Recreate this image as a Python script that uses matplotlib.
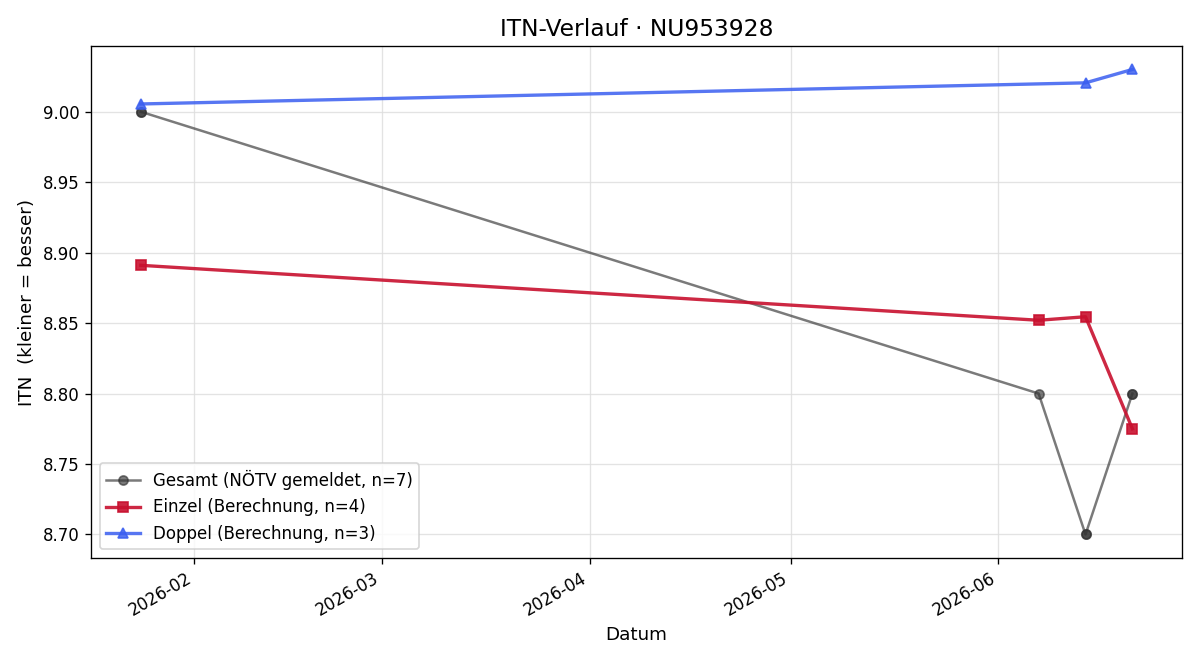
import matplotlib
matplotlib.use("Agg")
import matplotlib.pyplot as plt
import matplotlib.dates as mdates
import pandas as pd

gesamt_dates = ["2026-01-24", "2026-01-24", "2026-06-07",
                "2026-06-14", "2026-06-14", "2026-06-21", "2026-06-21"]
gesamt_vals = [9.00, 9.00, 8.80, 8.70, 8.70, 8.80, 8.80]

einzel_dates = ["2026-01-24", "2026-06-07", "2026-06-14", "2026-06-21"]
einzel_vals = [8.891, 8.852, 8.8545, 8.775]

doppel_dates = ["2026-01-24", "2026-06-14", "2026-06-21"]
doppel_vals = [9.0055, 9.0205, 9.030]

fig, ax = plt.subplots(figsize=(10, 5.5), dpi=120)

ax.plot(pd.to_datetime(gesamt_dates), gesamt_vals, marker="o", color="#333333",
        alpha=0.65, lw=1.5, ms=5.5, label="Gesamt (NÖTV gemeldet, n=7)")
ax.plot(pd.to_datetime(einzel_dates), einzel_vals, marker="s", color="#c8102e",
        alpha=0.9, lw=2, ms=6.5, label="Einzel (Berechnung, n=4)")
ax.plot(pd.to_datetime(doppel_dates), doppel_vals, marker="^", color="#3a5ef0",
        alpha=0.85, lw=2, ms=6.5, label="Doppel (Berechnung, n=3)")

ax.set_title("ITN-Verlauf · NU953928", fontsize=14)
ax.set_xlabel("Datum", fontsize=11)
ax.set_ylabel("ITN  (kleiner = besser)", fontsize=11)
ax.grid(True, color="#dddddd", lw=0.8, alpha=0.8)
ax.xaxis.set_major_locator(mdates.MonthLocator())
ax.xaxis.set_major_formatter(mdates.DateFormatter("%Y-%m"))
fig.autofmt_xdate()
ax.legend(loc="lower left")
fig.subplots_adjust(left=0.076, right=0.985, top=0.93, bottom=0.155)
fig.savefig("out.png")
